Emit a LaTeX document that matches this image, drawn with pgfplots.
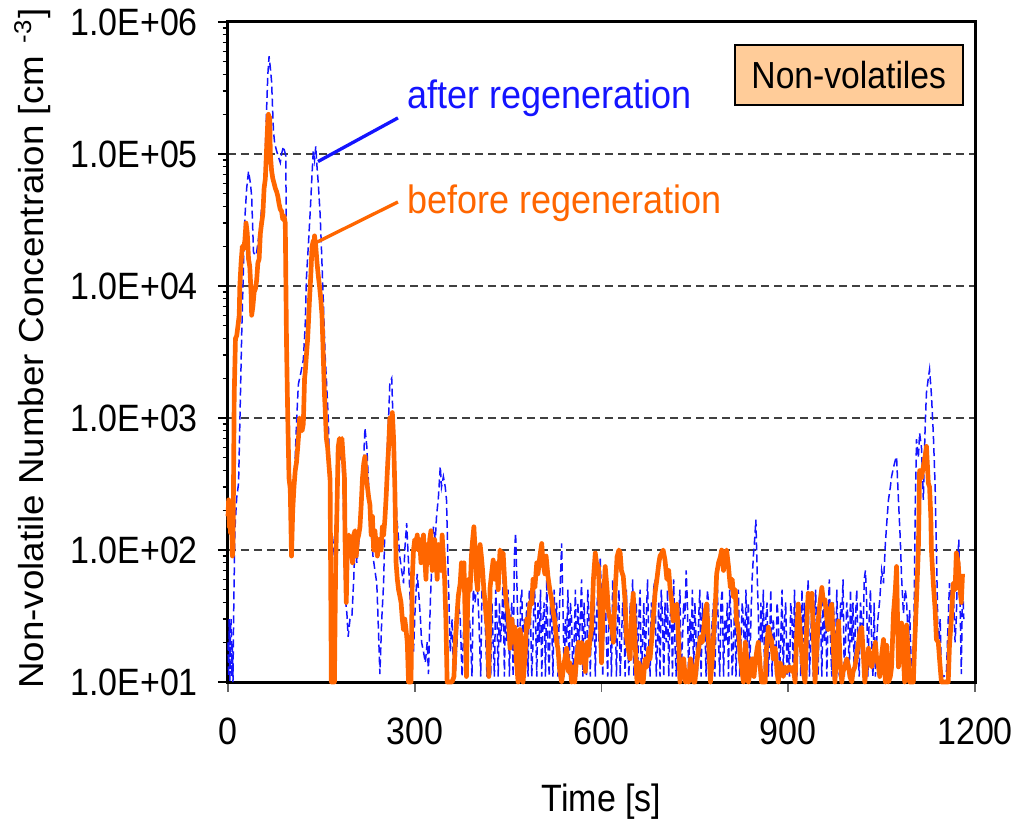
\documentclass[border=0pt]{standalone}
\usepackage{pgfplots}
\pgfplotsset{compat=1.18}
\usepackage{fontspec}
\setmainfont{Liberation Sans}
\definecolor{orng}{RGB}{255,102,0}
\definecolor{blu}{RGB}{20,20,255}
\definecolor{peach}{RGB}{255,204,153}
\begin{document}
\begin{tikzpicture}
\path[use as bounding box] (-68.4pt,-42pt) rectangle (236.4pt,204.6pt);
\begin{axis}[
  at={(0,0)}, anchor=south west,
  scale only axis, width=224.1pt, height=198pt,
  xmin=0, xmax=1200, ymode=log, ymin=10, ymax=1e6,
  clip=false,
  axis line style={black, line width=0.9pt},
  xtick={0,300,600,900,1200},
  xtick pos=bottom, ytick pos=left,
  tick align=outside,
  major tick length=3pt, minor tick length=1.6pt,
  xtick style={black!60, line width=0.5pt},
  ytick style={black, line width=0.4pt},
  minor ytick={20,30,40,50,60,70,80,90,200,300,400,500,600,700,800,900,2000,3000,4000,5000,6000,7000,8000,9000,20000,30000,40000,50000,60000,70000,80000,90000,200000,300000,400000,500000,600000,700000,800000,900000},
  ytick={10,100,1000,10000,100000,1000000},
  yticklabels={1.0E+01,1.0E+02,1.0E+03,1.0E+04,1.0E+05,1.0E+06},
  /pgf/number format/assume math mode=true,
  /pgf/number format/1000 sep={},
  ticklabel style={font=\fontsize{10.2}{12}\selectfont, yscale=1.12},
  yticklabel style={xshift=-2.5pt},
  xticklabel style={yshift=-3.5pt},
  ymajorgrids=true,
  major grid style={black!75, line width=0.4pt, dash pattern=on 2.4pt off 1.5pt},
  xlabel={Time [s]},
  xlabel style={font=\fontsize{10.2}{12}\selectfont, yscale=1.12, at={(axis description cs:0.5,-0.182)}, anchor=center},
  ylabel={Non-volatile Number Concentraion [cm\,\,\textsuperscript{-3}]},
  ylabel style={font=\fontsize{10.4}{13}\selectfont, xscale=1.06, at={(axis description cs:-0.262,0.505)}, anchor=center},
]
% after regeneration (blue dashed)
\addplot[blu, line width=0.45pt, dash pattern=on 2.4pt off 1.2pt] coordinates {
(0,20)(1,11)(2,30)(3,10)(4,25)(5,30)(6,11)(7,20)(8,10)(9,30)(11,140)(14,250)(17,320)(20,1500)(22,4300)(25,15000)(27,32000)(30,55000)(33,74000)(36,60000)(38,48000)(41,18000)(44,17000)(46,18000)(49,23000)(52,30000)(54,39000)(57,50000)(59,74000)(62,220000)(64,400000)(66,550000)(68,450000)(70,355000)(72,200000)(73,150000)(75,120000)(78,106000)(81,95000)(84,86000)(86,100000)(89,114000)(91,105000)(93,96000)(94,4300)(96,1500)(98,500)(100,300)(102,170)(105,300)(108,500)(110,900)(113,1800)(117,2200)(121,2760)(124,5000)(126,11500)(129,20000)(132,36000)(135,70000)(137,106000)(139,90000)(141,114000)(143,80000)(145,60000)(148,35000)(150,20000)(153,8000)(156,3000)(158,2000)(161,1000)(164,300)(166,72)(169,100)(172,140)(175,250)(177,350)(180,500)(183,620)(185,300)(188,45)(191,33)(193,22)(196,30)(199,31)(202,60)(204,112)(207,80)(209,100)(212,150)(215,254)(218,500)(220,840)(223,610)(226,300)(228,180)(231,120)(233,89)(236,70)(239,56)(241,31)(244,11.5)(247,30)(250,56)(252,150)(255,480)(258,1000)(260,1850)(263,2000)(265,1000)(268,400)(271,180)(274,120)(276,89)(279,70)(282,56)(284,100)(287,160)(290,80)(293,39)(295,25)(298,17)(301,40)(304,66)(306,50)(309,31)(311,20)(314,17)(317,14)(320,20)(322,11.5)(325,40)(328,90)(330,150)(333,120)(335,180)(338,250)(341,430)(343,300)(346,360)(349,300)(351,240)(354,60)(357,17)(360,30)(362,11)(365,11.5)(368,20)(370,40)(373,31)(376,11)(379,30)(381,20)(383,17)(386,40)(389,25)(392,11)(394,50)(397,40)(400,63)(403,30)(406,11)(408,50)(410,56)(413,30)(416,11)(418,30)
(420,30)(422,11)(424,40)(426,20)(428,11)(430,50)(432,30)(434,11)(436,40)(438,20)
(440,30)(442,60)(444,11)(446,40)(448,20)(450,50)(452,11)(454,30)(456,40)(458,11)
(460,90)(462,135)(464,60)(466,20)(468,11)(470,40)(472,50)(474,11)(476,30)(478,20)
(480,40)(482,11)(484,50)(486,30)(488,11)(490,20)(492,60)(494,30)(496,11)(498,40)
(500,20)(502,50)(504,11)(506,30)(508,40)(510,11)(512,60)(514,20)(516,11)(518,40)
(520,30)(522,11)(524,50)(526,20)(528,40)(530,11)(532,30)(534,60)(536,112)(538,40)
(540,11)(542,30)(544,20)(546,50)(548,11)(550,40)(552,30)(554,11)(556,20)(558,50)
(560,11)(562,40)(564,20)(566,30)(568,60)(570,11)(572,40)(574,20)(576,11)(578,50)
(580,30)(582,11)(584,40)(586,20)(588,60)(590,11)(592,30)(594,50)(596,20)(598,89)
(600,40)(602,11)(604,30)(606,50)(608,20)(610,11)(612,40)(614,30)(616,11)(618,60)
(620,20)(622,40)(624,11)(626,30)(628,50)(630,11)(632,20)(634,40)(636,30)(638,11)
(640,50)(642,20)(644,11)(646,40)(648,30)(650,60)(652,11)(654,20)(656,40)(658,11)
(660,30)(662,50)(664,11)(666,20)(668,40)(670,11)(672,30)(674,60)(676,20)(678,11)
(680,40)(682,30)(684,52)(686,60)(688,11)(690,20)(692,40)(694,11)(696,50)(698,30)
(700,11)(702,40)(704,20)(706,50)(708,11)(710,30)(712,40)(714,11)(716,60)(718,20)
(720,11)(722,40)(724,30)(726,50)(728,11)(730,20)(732,40)(734,30)(736,70)(738,40)
(740,11)(742,30)(744,20)(746,50)(748,11)(750,40)(752,20)(754,11)(756,30)(758,50)
(760,11)(762,40)(764,20)(766,30)(768,11)(770,50)(772,40)(774,11)(776,20)(778,30)
(780,40)(782,11)(784,30)(786,60)(788,20)(790,11)(792,40)(794,50)(796,11)(798,30)
(800,20)(802,40)(804,11)(806,50)(808,30)(810,11)(812,20)(814,40)(816,11)(818,30)
(820,50)(822,11)(824,20)(826,40)(828,30)(830,11)(832,50)(834,20)(836,40)(838,11)
(840,30)(842,60)(844,90)(846,120)(848,170)(850,70)(852,30)(854,11)(856,40)(858,20)
(860,50)(862,11)(864,30)(866,40)(868,11)(870,20)(872,50)(874,11)(876,30)(878,20)
(880,11)(882,40)(884,30)(886,11)(888,20)(890,50)(892,11)(894,30)(896,40)(898,11)
(900,20)(902,11)(904,40)(906,30)(908,11)(910,50)(912,20)(914,11)(916,40)(918,30)
(920,11)(922,50)(924,20)(926,40)(928,11)(930,30)(932,60)(934,11)(936,20)(938,40)
(940,11)(942,30)(944,50)(946,20)(948,11)(950,40)(952,30)(954,11)(956,50)(958,20)
(960,40)(962,11)(964,30)(966,60)(968,20)(970,11)(972,40)(974,30)(976,11)(978,50)
(980,20)(982,11)(984,40)(986,30)(988,60)(990,11)(992,20)(994,40)(996,30)(998,11)
(1000,50)(1002,20)(1004,40)(1006,11)(1008,30)(1010,50)(1012,20)(1014,11)(1016,40)(1018,30)
(1020,20)(1022,60)(1024,70)(1026,40)(1028,11)(1030,30)(1032,50)(1034,20)(1036,11)(1038,40)
(1040,11)(1042,20)(1044,30)
(1047,42)(1050,70)(1053,56)(1056,112)(1059,180)(1061,240)(1064,300)(1066,360)(1069,420)(1072,480)(1074,510)(1077,240)(1080,120)(1082,63)(1085,33)(1088,50)(1090,42)(1093,20)(1095,35)(1098,11)(1101,11.5)(1104,200)(1106,690)(1109,500)(1111,770)(1114,600)(1117,240)(1120,900)(1122,1550)(1125,2000)(1127,2330)(1130,1500)(1133,770)(1136,300)(1138,100)(1141,17)(1144,30)(1146,11.5)(1150,11)(1154,11.5)(1157,30)(1159,56)(1162,40)(1165,50)(1168,20)(1170,31)(1172,80)(1174,120)(1176,40)(1178,11.5)(1180,60)(1182,30)
};
% before regeneration (orange)
\addplot[orng, line width=1.4pt, line join=round] coordinates {
(0,180)(1,240)(2,150)(3,220)(4,135)(5,200)(6,170)(7,90)(8,100)(10,1500)(12,4000)(14,4200)(16,5000)(18,6000)(19,10000)(21,15000)(23,20000)(25,19000)(27,22000)(29,30000)(31,25000)(33,16000)(35,14000)(37,9000)(38,6000)(40,7000)(42,9000)(44,9500)(46,11000)(48,15000)(50,16000)(52,25000)(54,30000)(56,35000)(58,55000)(60,65000)(62,110000)(64,180000)(65,200000)(66,130000)(67,190000)(68,100000)(70,75000)(72,65000)(74,60000)(76,55000)(78,52000)(80,48000)(82,42000)(84,38000)(86,37000)(88,32000)(90,34000)(92,30000)(94,3700)(96,1000)(98,350)(100,290)(102,90)(104,200)(106,300)(108,400)(110,460)(112,600)(114,800)(115,1000)(117,950)(119,800)(121,900)(123,2000)(124,2200)(126,3000)(128,4000)(129,5000)(131,8000)(133,12000)(135,20000)(137,22000)(138,18000)(139,24000)(141,20000)(143,15000)(145,12000)(147,10000)(149,8000)(151,6000)(153,3000)(155,1500)(156,1200)(158,700)(160,600)(162,450)(164,340)(166,10)(171,10)(173,80)(175,200)(177,600)(179,700)(181,650)(183,700)(185,500)(187,360)(188,120)(190,40)(192,120)(194,130)(196,90)(198,110)(200,80)(202,130)(204,140)(206,90)(208,120)(210,130)(212,150)(214,220)(216,350)(218,450)(220,510)(222,350)(224,300)(226,250)(228,220)(230,130)(232,180)(234,100)(236,140)(238,110)(240,90)(242,120)(244,120)(246,100)(248,150)(250,130)(252,170)(254,250)(256,400)(258,600)(260,1000)(262,900)(264,1100)(266,700)(268,300)(270,80)(272,60)(274,50)(276,45)(278,40)(280,30)(282,25)(284,30)(286,25)(288,20)(290,10)(292,10)(294,10)(296,60)(298,100)(300,120)(302,110)(304,130)(306,100)(308,120)(310,80)(312,110)(314,130)(316,90)(318,60)(320,110)(322,80)(324,120)(326,140)(328,70)(330,100)(332,120)(334,90)(336,60)(338,110)(340,100)(342,70)(344,130)(346,90)(348,60)(350,30)(352,10)(356,10)(360,10)(363,11)(365,20)(368,33)(370,45)(373,56)(375,80)(377,70)(379,80)(381,30)(383,11)(385,40)(387,60)(389,50)(391,90)(393,120)(395,150)(397,100)(399,60)(401,50)(403,80)(405,110)(407,90)(409,70)(411,50)(413,40)(415,30)(417,25)(419,11)
(421,52)(424,70)(426,84)(429,60)(431,79)(434,50)(437,100)(440,90)(442,95)(445,52)(447,40)(450,33)(453,18)(456,30)(459,20)(461,26)(463,15)(466,10)(469,25)(472,20)(474,10)(477,15)(480,30)(482,26)(485,40)(488,39)(490,60)(493,52)(496,80)(498,66)(501,90)(504,112)(506,80)(509,66)(511,90)(514,63)(517,50)(520,42)(522,35)(525,29)(528,20)(530,18)(533,12)(536,10)(540,14)(544,18)(547,12)(549,14)(552,10)(555,13)(557,10)(560,15)(563,20)(566,14)(568,20)(571,18)(574,12)(577,20)(579,16)(582,22)(584,25)(587,60)(590,95)(592,80)(595,75)(598,30)(600,14)(603,40)(606,75)(609,50)(611,35)(614,29)(617,25)(619,20)(622,50)(625,89)(628,100)(630,95)(632,70)(635,63)(638,40)(640,22)(643,18)(646,15)(648,30)(651,47)(654,20)(657,10)(660,14)(662,13)(665,10)(667,10)(670,15)(673,13)(676,18)(678,15)(681,22)(684,35)(686,47)(689,60)(692,79)(694,90)(697,95)(699,100)(702,84)(705,60)(708,70)(710,52)(713,40)(715,29)(718,35)(721,39)(724,20)(726,10)(729,12)(732,15)(735,10)(737,12)(740,10)(743,15)(745,13)(748,10)(750,10)(753,14)(756,18)(759,22)(762,20)(764,25)(767,35)(769,39)(772,20)(775,10)(778,15)(780,22)(783,40)(785,66)(788,80)(791,89)(793,100)(796,70)(798,90)(801,100)(804,75)(807,52)(810,60)(812,44)(815,50)(817,29)(820,25)(823,15)(825,13)(828,10)(831,20)(834,14)(836,10)(839,12)(842,15)(845,11)(847,14)(850,18)(852,20)(855,13)(857,10)(860,10)(863,10)(865,18)(868,26)(871,22)(873,21)(876,15)(879,18)(882,12)(884,10)(887,14)(889,13)(892,11)(895,13)(898,12)(900,13)(903,13)(906,12)(908,13)(911,10)(913,20)(916,39)(919,25)(922,16)(924,12)(927,10)(930,30)(932,47)(935,40)(938,47)(940,25)(943,10)(946,18)(948,29)(951,40)(954,52)(956,42)(959,42)(962,30)(964,25)(967,35)(970,39)(972,20)(975,10)(978,18)(981,29)(983,15)(986,10)(988,12)(991,13)(994,15)(997,13)(999,11)(1002,10)(1004,12)(1007,13)(1010,16)(1013,20)(1015,24)(1018,26)(1021,15)(1023,10)(1026,14)(1029,18)(1031,15)(1034,13)(1037,16)(1040,20)(1042,15)(1045,13)(1047,11)(1050,16)(1053,21)(1056,10)(1058,19)(1061,10)(1064,11)(1066,13)(1069,33)(1072,50)(1074,75)(1077,13)(1080,20)(1082,28)(1085,15)(1087,10)(1090,27)(1093,15)(1095,10)(1098,10)(1101,10)(1103,19)(1106,42)(1109,100)(1111,400)(1114,350)(1117,430)(1120,520)(1122,610)(1124,400)(1125,320)(1127,300)(1129,180)(1130,100)(1133,56)(1136,35)(1138,21)(1141,20)(1143,15)(1146,10)(1150,10)(1154,10)(1157,10)(1159,19)(1162,30)(1165,56)(1168,50)(1170,95)(1173,80)(1175,56)(1178,40)(1180,66)
};
% annotations
\draw[blu, line width=1pt] (axis cs:144.6,87700) -- (axis cs:273,187700);
\draw[orng, line width=1pt] (axis cs:143,21500) -- (axis cs:273,43300);
\node[anchor=base west, inner sep=0pt, text=blu, yscale=1.1, font=\fontsize{10.8}{13}\selectfont] at (axis cs:287.6,223000) {after regeneration};
\node[anchor=base west, inner sep=0pt, text=orng, yscale=1.1, font=\fontsize{10.8}{13}\selectfont] at (axis cs:287.6,35700) {before regeneration};
\node[draw=black, line width=0.7pt, fill=peach, minimum width=68.4pt, minimum height=18pt, inner sep=0pt] at (rel axis cs:0.831,0.920) {};
\node[inner sep=0pt, yscale=1.12, font=\fontsize{10.1}{12}\selectfont] at (rel axis cs:0.831,0.920) {Non-volatiles};
\end{axis}
\end{tikzpicture}
\end{document}
